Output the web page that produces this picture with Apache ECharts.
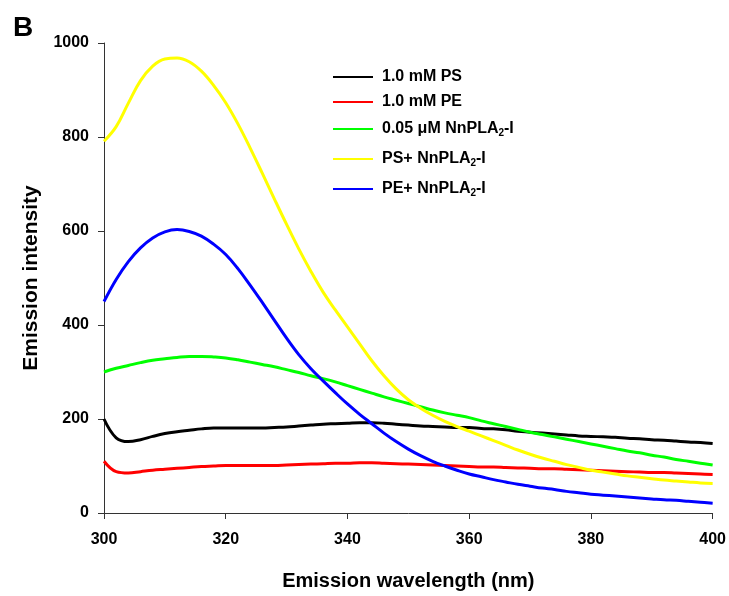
<!DOCTYPE html>
<html><head><meta charset="utf-8">
<script src="https://cdn.jsdelivr.net/npm/echarts@6/dist/echarts.min.js"></script>
<style>html,body{margin:0;padding:0;background:#fff}#c{width:729px;height:596px}</style>
</head><body><div id="c"></div>
<script>
var wavelengths = [300,302,304,306,308,310,312,314,316,318,320,322,324,326,328,330,332,334,336,338,340,342,344,346,348,350,352,354,356,358,360,362,364,366,368,370,372,374,376,378,380,382,384,386,388,390,392,394,396,398,400];
var ps = [200,160,152,156,163,169,173,176,179,181,181,181,181,181,182,183,185,187,189,190,191,192,192,191,189,187,185,184,183,182,182,180,179,177,174,172,170,168,166,164,163,162,161,159,158,156,155,153,151,150,148];
var pe = [110,88,85,88,91,93,95,97,99,100,101,101,101,101,101,102,103,104,105,106,106,107,107,106,105,104,103,102,101,100,99,98,98,97,96,95,94,94,93,92,91,90,89,88,87,86,86,85,84,83,82];
var enzyme = [300,308,314,320,325,328,331,333,333,332,330,326,321,316,311,305,299,292,286,279,271,263,255,247,240,233,226,219,213,208,203,196,190,184,178,172,167,162,157,152,147,142,137,132,128,123,119,114,110,106,102];
var psEnzyme = [791,822,872,920,951,966,968,960,940,910,873,828,777,723,668,614,562,514,470,432,396,360,324,292,264,241,223,208,195,184,174,164,154,144,134,125,117,110,103,97,91,87,83,79,76,73,70,68,66,64,63];
var peEnzyme = [450,497,535,564,585,598,603,599,589,572,550,520,485,448,410,372,337,307,281,256,232,210,190,170,152,136,122,110,100,91,83,77,71,66,61,57,53,50,46,43,40,38,36,34,32,30,28,27,25,23,21];
var seriesNames = ['1.0 mM PS','1.0 mM PE','0.05 \u03bcM NnPLA2-I','PS+ NnPLA2-I','PE+ NnPLA2-I'];
var seriesValues = [ps, pe, enzyme, psEnzyme, peEnzyme];
var colors = ['#000000','#ff0000','#00ff00','#ffff00','#0000ff'];
var xTicks = [300,320,340,360,380,400];
var yTicks = [0,200,400,600,800,1000];

var FONT = 'Liberation Sans, Arial, sans-serif';
var legendTops = [64, 89, 116, 146, 176];

function pairs(vals){ return wavelengths.map(function(w,i){ return [w, vals[i]]; }); }

var legends = seriesNames.map(function(n, i){
  return {
    data: [n], left: 328, top: legendTops[i], orient: 'vertical',
    itemWidth: 40, itemHeight: 14, icon: 'path://M0,6L40,6L40,8L0,8Z',
    selectedMode: false,
    formatter: function(name){
      if (name.indexOf('NnPLA2') >= 0) {
        var parts = name.split('NnPLA2');
        return '{a|' + parts[0] + 'NnPLA}{s|2}{a|' + parts[1] + '}';
      }
      return '{a|' + name + '}';
    },
    textStyle: {
      padding: [0,0,0,4],
      rich: {
        a: {fontFamily: FONT, fontWeight: 'bold', fontSize: 16, color: '#000'},
        s: {fontFamily: FONT, fontWeight: 'bold', fontSize: 10, color: '#000', verticalAlign: 'bottom', padding: [8,0,0,0]}
      }
    }
  };
});

var chart = echarts.init(document.getElementById('c'), null, {renderer: 'canvas'});
chart.setOption({
  animation: false,
  backgroundColor: '#fff',
  title: {text: 'B', left: 8, top: 9, textStyle: {fontFamily: FONT, fontWeight: 'bold', fontSize: 28, color: '#000'}},
  legend: legends,
  grid: {left: 104, right: 16, top: 43, bottom: 80, containLabel: false},
  xAxis: {
    type: 'value', min: 300, max: 400, interval: 20,
    name: 'Emission wavelength (nm)', nameLocation: 'middle', nameGap: 58,
    nameTextStyle: {fontFamily: FONT, fontWeight: 'bold', fontSize: 20, color: '#000'},
    axisLine: {show: true, lineStyle: {color: '#333', width: 1}},
    axisTick: {show: true, length: 6, lineStyle: {color: '#333'}},
    axisLabel: {margin: 19, fontFamily: FONT, fontWeight: 'bold', fontSize: 16, color: '#000',
      customValues: xTicks, formatter: function(v){ return String(v); }},
    splitLine: {show: false}
  },
  yAxis: {
    type: 'value', min: 0, max: 1000, interval: 200,
    name: 'Emission intensity', nameLocation: 'middle', nameGap: 62, nameRotate: 90,
    nameTextStyle: {fontFamily: FONT, fontWeight: 'bold', fontSize: 21, color: '#000'},
    axisLine: {show: true, lineStyle: {color: '#333', width: 1}},
    axisTick: {show: true, length: 6, lineStyle: {color: '#333'}},
    axisLabel: {margin: 15, fontFamily: FONT, fontWeight: 'bold', fontSize: 16, color: '#000',
      customValues: yTicks, formatter: function(v){ return String(v); }},
    splitLine: {show: false}
  },
  series: seriesNames.map(function(n, i){
    return {
      name: n, type: 'line', data: pairs(seriesValues[i]), smooth: 0.4,
      symbol: 'none', color: colors[i],
      lineStyle: {color: colors[i], width: 3}
    };
  })
});
</script></body></html>
